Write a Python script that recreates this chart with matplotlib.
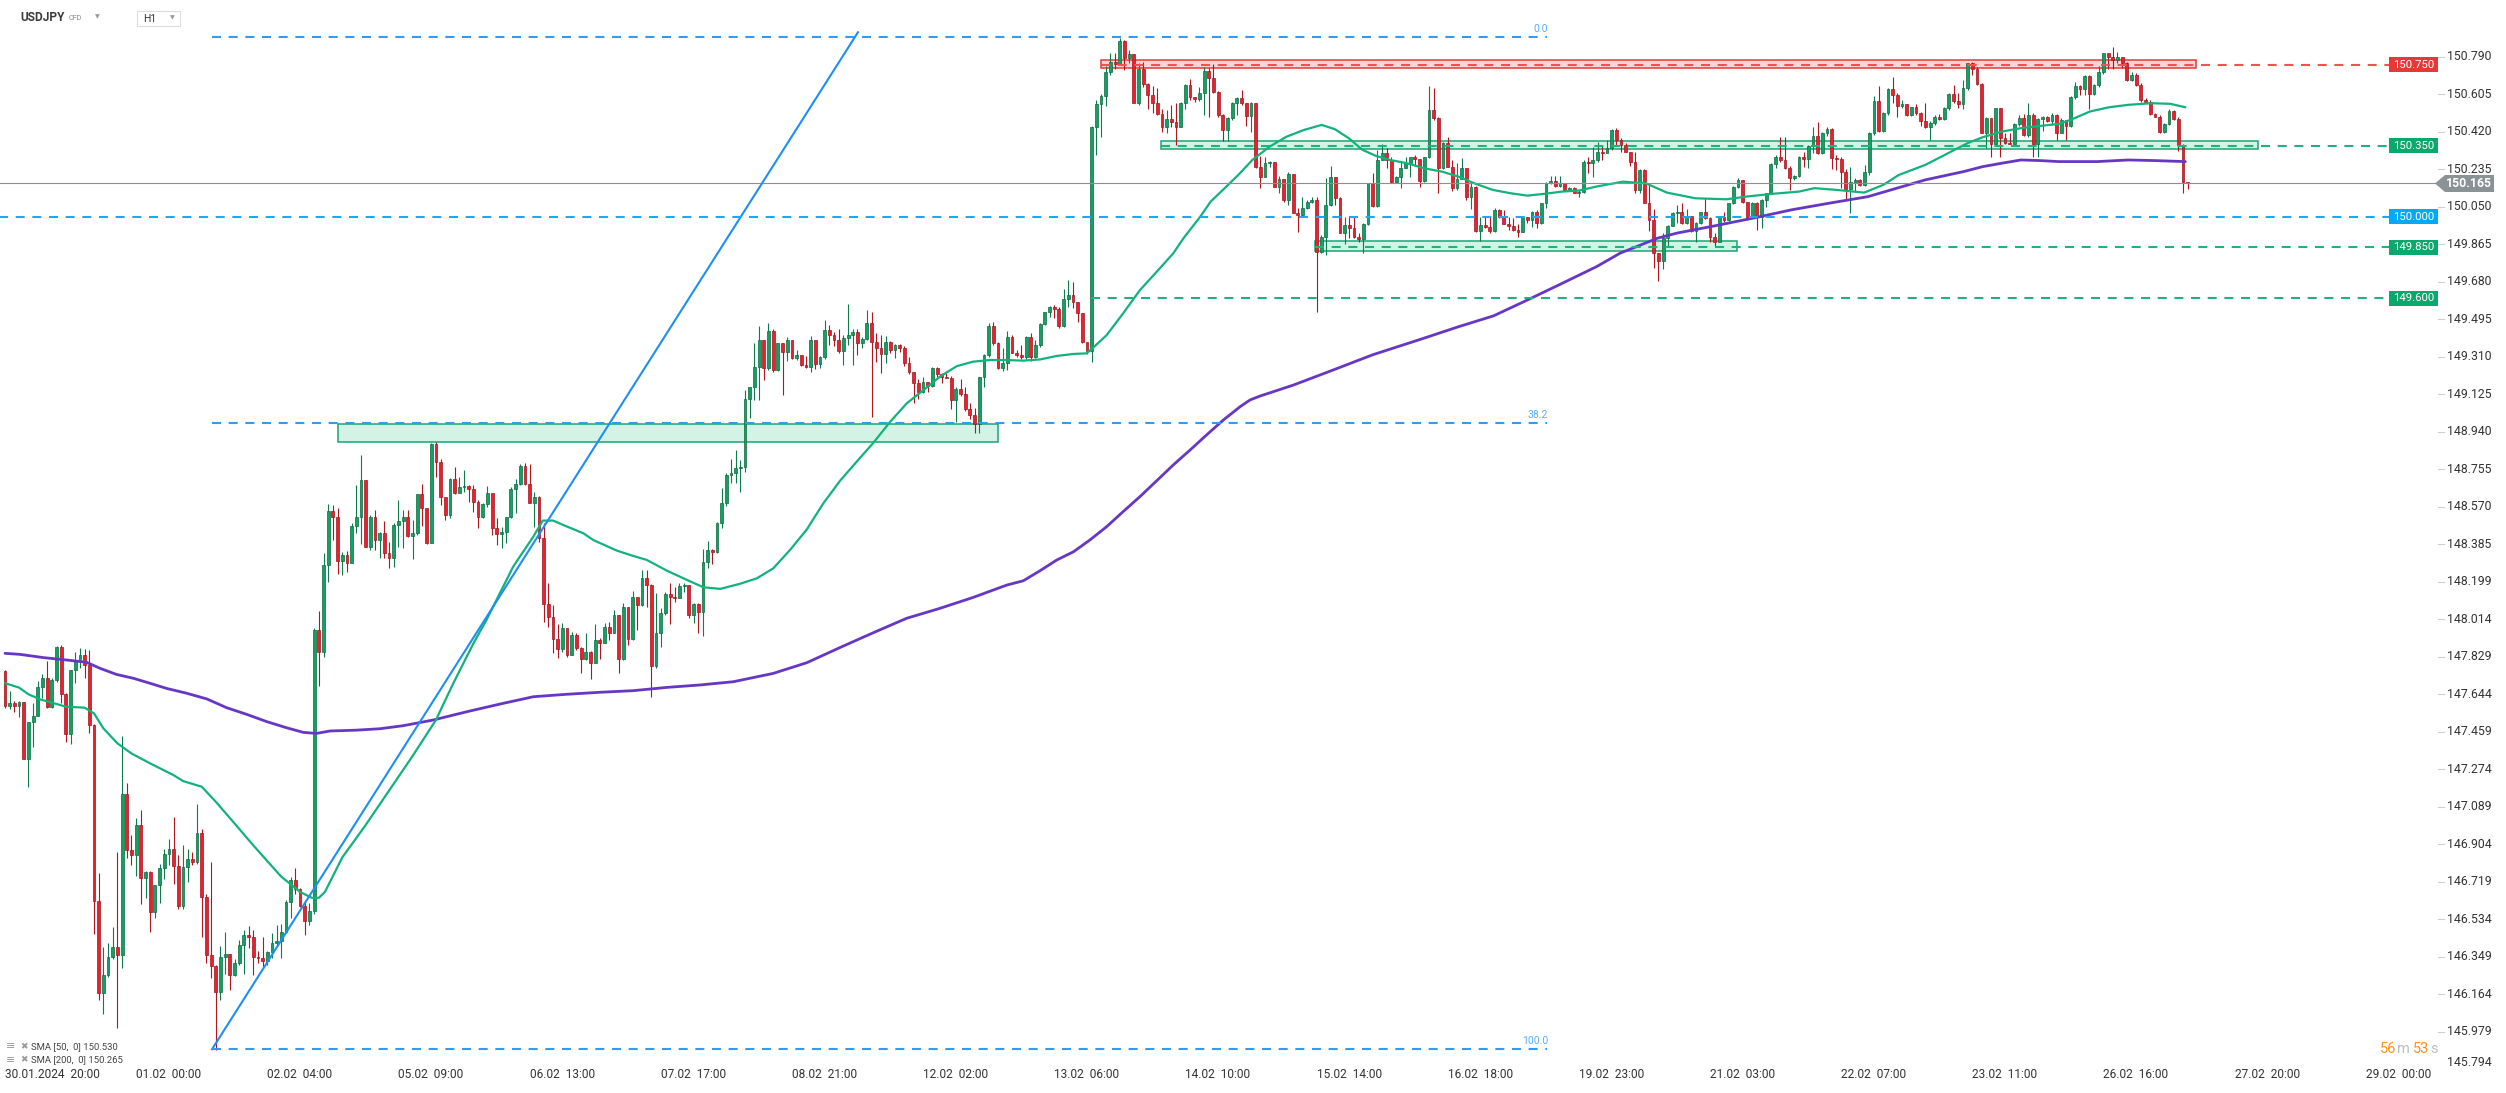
import numpy as np
import matplotlib
matplotlib.use("Agg")
import matplotlib.pyplot as plt
from matplotlib.patches import Rectangle, Polygon

plt.rcParams['font.family'] = ['Roboto', 'DejaVu Sans']
plt.rcParams['lines.scale_dashes'] = False

# ---------------- data (USDJPY H1) ----------------
first_open = 147.760

closes = [
    147.589, 147.600, 147.588, 147.605, 147.325, 147.506, 147.540, 147.683, 147.727, 147.584,
    147.715, 147.880, 147.645, 147.447, 147.765, 147.814, 147.839, 147.790, 147.493, 146.625,
    146.169, 146.259, 146.350, 146.400, 146.361, 147.153, 146.876, 146.852, 146.999, 146.740,
    146.770, 146.569, 146.703, 146.789, 146.857, 146.884, 146.797, 146.602, 146.794, 146.832,
    146.820, 146.962, 146.646, 146.361, 146.304, 146.177, 146.348, 146.363, 146.260, 146.320,
    146.410, 146.457, 146.447, 146.350, 146.345, 146.330, 146.375, 146.416, 146.430, 146.474,
    146.620, 146.730, 146.684, 146.600, 146.526, 146.575, 147.960, 147.855, 148.283, 148.549,
    148.520, 148.304, 148.332, 148.294, 148.475, 148.518, 148.702, 148.373, 148.521, 148.406,
    148.442, 148.340, 148.319, 148.480, 148.502, 148.518, 148.426, 148.439, 148.632, 148.566,
    148.393, 148.880, 148.793, 148.620, 148.530, 148.707, 148.640, 148.670, 148.675, 148.656,
    148.592, 148.520, 148.584, 148.636, 148.467, 148.436, 148.445, 148.521, 148.656, 148.680,
    148.773, 148.680, 148.590, 148.617, 148.415, 148.090, 148.025, 147.916, 147.867, 147.970,
    147.839, 147.937, 147.872, 147.817, 147.855, 147.801, 147.913, 147.897, 147.979, 147.949,
    148.036, 147.818, 148.074, 147.916, 148.127, 148.085, 148.217, 148.184, 147.785, 147.946,
    148.045, 148.140, 148.127, 148.120, 148.179, 148.185, 148.036, 148.091, 148.053, 148.296,
    148.357, 148.345, 148.488, 148.587, 148.725, 148.735, 148.760, 148.765, 149.100, 149.163,
    149.258, 149.393, 149.253, 149.437, 149.245, 149.377, 149.336, 149.393, 149.303, 149.320,
    149.270, 149.258, 149.393, 149.275, 149.307, 149.443, 149.418, 149.393, 149.340, 149.402,
    149.418, 149.430, 149.376, 149.400, 149.478, 149.381, 149.352, 149.324, 149.385, 149.344,
    149.368, 149.352, 149.278, 149.237, 149.179, 149.138, 149.184, 149.168, 149.253, 149.225,
    149.212, 149.204, 149.097, 149.153, 149.127, 149.051, 149.023, 148.978, 149.209, 149.320,
    149.462, 149.376, 149.253, 149.278, 149.410, 149.330, 149.319, 149.310, 149.410, 149.308,
    149.368, 149.470, 149.533, 149.554, 149.546, 149.464, 149.594, 149.615, 149.582, 149.525,
    149.381, 149.340, 150.442, 150.556, 150.597, 150.717, 150.763, 150.755, 150.870, 150.783,
    150.803, 150.564, 150.729, 150.655, 150.600, 150.560, 150.508, 150.442, 150.482, 150.470,
    150.446, 150.561, 150.650, 150.590, 150.581, 150.613, 150.722, 150.684, 150.618, 150.503,
    150.429, 150.487, 150.564, 150.586, 150.561, 150.498, 150.564, 150.245, 150.199, 150.265,
    150.273, 150.150, 150.186, 150.084, 150.212, 150.021, 150.010, 150.043, 150.076, 150.084,
    149.829, 149.903, 150.059, 150.199, 150.092, 149.923, 149.961, 149.944, 149.900, 149.890,
    149.966, 150.166, 150.054, 150.281, 150.314, 150.281, 150.174, 150.199, 150.240, 150.265,
    150.298, 150.285, 150.179, 150.294, 150.528, 150.487, 150.240, 150.367, 150.248, 150.142,
    150.186, 150.240, 150.100, 150.150, 149.933, 149.961, 149.949, 149.933, 150.035, 150.002,
    149.966, 149.955, 149.936, 149.925, 149.998, 149.985, 150.026, 149.969, 150.068, 150.166,
    150.178, 150.153, 150.166, 150.133, 150.145, 150.120, 150.125, 150.273, 150.265, 150.281,
    150.322, 150.314, 150.339, 150.429, 150.380, 150.355, 150.319, 150.273, 150.133, 150.232,
    150.071, 149.985, 149.821, 149.785, 149.895, 149.956, 150.018, 150.022, 149.969, 150.005,
    149.933, 149.972, 150.022, 149.994, 149.903, 149.878, 149.998, 149.985, 150.068, 150.150,
    150.183, 150.076, 149.999, 150.071, 149.999, 150.084, 150.117, 150.262, 150.298, 150.281,
    150.240, 150.191, 150.202, 150.294, 150.285, 150.350, 150.400, 150.314, 150.416, 150.433,
    150.290, 150.285, 150.224, 150.137, 150.174, 150.183, 150.158, 150.224, 150.416, 150.572,
    150.426, 150.515, 150.630, 150.602, 150.548, 150.558, 150.503, 150.541, 150.511, 150.475,
    150.442, 150.462, 150.495, 150.482, 150.536, 150.607, 150.574, 150.558, 150.635, 150.758,
    150.729, 150.656, 150.416, 150.487, 150.360, 150.536, 150.390, 150.367, 150.360, 150.459,
    150.487, 150.405, 150.503, 150.360, 150.482, 150.495, 150.475, 150.503, 150.413, 150.479,
    150.449, 150.591, 150.646, 150.630, 150.696, 150.607, 150.651, 150.717, 150.808, 150.790,
    150.775, 150.788, 150.761, 150.676, 150.701, 150.651, 150.577, 150.569, 150.508, 150.495,
    150.421, 150.459, 150.525, 150.482, 150.355, 150.174, 150.165,
]

highs = [
    147.765, 147.660, 147.610, 147.610, 147.608, 147.506, 147.600, 147.710, 147.743, 147.809,
    147.724, 147.883, 147.888, 147.653, 147.765, 147.855, 147.875, 147.868, 147.863, 147.497,
    146.761, 146.399, 146.416, 146.498, 146.868, 147.439, 147.209, 146.950, 147.036, 147.074,
    146.773, 146.773, 146.703, 146.810, 146.880, 146.931, 147.041, 146.852, 146.901, 146.881,
    146.865, 147.105, 146.978, 146.662, 146.819, 146.309, 146.403, 146.473, 146.363, 146.341,
    146.432, 146.481, 146.503, 146.481, 146.378, 146.448, 146.378, 146.465, 146.509, 146.514,
    146.630, 146.745, 146.789, 146.687, 146.621, 146.613, 147.970, 148.056, 148.340, 148.584,
    148.579, 148.566, 148.349, 148.354, 148.489, 148.678, 148.826, 148.702, 148.529, 148.554,
    148.447, 148.502, 148.398, 148.489, 148.604, 148.554, 148.554, 148.505, 148.632, 148.681,
    148.563, 148.883, 148.891, 148.806, 148.620, 148.710, 148.768, 148.715, 148.752, 148.678,
    148.678, 148.604, 148.587, 148.673, 148.640, 148.513, 148.472, 148.521, 148.666, 148.706,
    148.780, 148.788, 148.781, 148.645, 148.623, 148.492, 148.192, 148.086, 147.992, 147.995,
    147.966, 147.951, 147.946, 147.880, 147.946, 147.860, 147.992, 147.921, 147.995, 148.003,
    148.061, 148.028, 148.094, 148.077, 148.156, 148.127, 148.258, 148.258, 148.189, 148.146,
    148.069, 148.151, 148.192, 148.176, 148.196, 148.196, 148.184, 148.094, 148.094, 148.360,
    148.401, 148.360, 148.497, 148.661, 148.738, 148.804, 148.850, 148.801, 149.146, 149.163,
    149.380, 149.462, 149.393, 149.478, 149.446, 149.380, 149.380, 149.406, 149.388, 149.344,
    149.300, 149.314, 149.413, 149.393, 149.314, 149.492, 149.467, 149.434, 149.446, 149.418,
    149.571, 149.446, 149.446, 149.410, 149.541, 149.529, 149.426, 149.418, 149.413, 149.390,
    149.373, 149.372, 149.363, 149.311, 149.232, 149.199, 149.209, 149.187, 149.258, 149.258,
    149.232, 149.228, 149.217, 149.159, 149.200, 149.163, 149.081, 149.056, 149.209, 149.324,
    149.478, 149.480, 149.385, 149.352, 149.439, 149.418, 149.344, 149.368, 149.413, 149.426,
    149.393, 149.475, 149.533, 149.561, 149.566, 149.554, 149.643, 149.689, 149.681, 149.582,
    149.528, 149.373, 150.450, 150.577, 150.607, 150.745, 150.808, 150.811, 150.882, 150.873,
    150.824, 150.775, 150.758, 150.766, 150.660, 150.646, 150.635, 150.531, 150.528, 150.553,
    150.561, 150.569, 150.655, 150.679, 150.594, 150.643, 150.742, 150.734, 150.755, 150.623,
    150.508, 150.492, 150.569, 150.590, 150.627, 150.548, 150.569, 150.561, 150.301, 150.298,
    150.278, 150.273, 150.202, 150.186, 150.224, 150.212, 150.043, 150.100, 150.084, 150.100,
    150.100, 149.911, 150.191, 150.252, 150.199, 150.097, 150.002, 149.998, 149.998, 149.920,
    149.972, 150.166, 150.219, 150.331, 150.360, 150.339, 150.298, 150.202, 150.278, 150.294,
    150.298, 150.306, 150.265, 150.298, 150.646, 150.635, 150.495, 150.372, 150.393, 150.281,
    150.265, 150.290, 150.212, 150.166, 150.153, 150.002, 150.002, 150.002, 150.043, 150.038,
    150.035, 149.998, 149.994, 149.966, 150.002, 150.002, 150.031, 150.035, 150.071, 150.170,
    150.200, 150.200, 150.200, 150.166, 150.150, 150.150, 150.133, 150.281, 150.298, 150.347,
    150.372, 150.355, 150.380, 150.433, 150.438, 150.388, 150.367, 150.322, 150.322, 150.235,
    150.235, 150.166, 150.038, 149.821, 149.920, 149.961, 150.026, 150.059, 150.071, 150.038,
    150.002, 149.977, 150.026, 150.092, 150.002, 149.920, 150.005, 150.022, 150.071, 150.153,
    150.191, 150.183, 150.076, 150.076, 150.076, 150.087, 150.120, 150.265, 150.306, 150.393,
    150.393, 150.252, 150.207, 150.301, 150.322, 150.355, 150.442, 150.466, 150.421, 150.442,
    150.438, 150.306, 150.294, 150.235, 150.248, 150.191, 150.186, 150.257, 150.421, 150.597,
    150.646, 150.520, 150.635, 150.689, 150.610, 150.577, 150.553, 150.544, 150.558, 150.520,
    150.561, 150.474, 150.503, 150.508, 150.541, 150.610, 150.651, 150.613, 150.676, 150.761,
    150.766, 150.742, 150.663, 150.492, 150.487, 150.536, 150.536, 150.413, 150.416, 150.462,
    150.503, 150.508, 150.561, 150.512, 150.487, 150.498, 150.498, 150.515, 150.508, 150.487,
    150.470, 150.597, 150.668, 150.651, 150.701, 150.701, 150.656, 150.745, 150.811, 150.808,
    150.837, 150.816, 150.788, 150.766, 150.717, 150.709, 150.660, 150.586, 150.577, 150.515,
    150.503, 150.462, 150.531, 150.528, 150.495, 150.360, 150.174,
]

lows = [
    147.575, 147.570, 147.560, 147.535, 147.325, 147.186, 147.383, 147.540, 147.625, 147.576,
    147.579, 147.707, 147.600, 147.408, 147.398, 147.700, 147.773, 147.724, 147.452, 146.460,
    146.136, 146.067, 146.251, 146.341, 146.001, 146.297, 146.838, 146.802, 146.750, 146.608,
    146.638, 146.470, 146.539, 146.613, 146.736, 146.802, 146.707, 146.585, 146.585, 146.720,
    146.802, 146.810, 146.448, 146.317, 146.243, 145.890, 146.136, 146.264, 146.185, 146.255,
    146.309, 146.264, 146.391, 146.259, 146.317, 146.300, 146.309, 146.345, 146.404, 146.345,
    146.465, 146.539, 146.662, 146.597, 146.457, 146.509, 146.560, 147.688, 147.827, 148.198,
    148.406, 148.239, 148.234, 148.250, 148.357, 148.439, 148.387, 148.370, 148.357, 148.357,
    148.316, 148.316, 148.267, 148.275, 148.373, 148.368, 148.419, 148.311, 148.431, 148.477,
    148.387, 148.390, 148.719, 148.579, 148.505, 148.513, 148.633, 148.640, 148.645, 148.595,
    148.546, 148.467, 148.513, 148.571, 148.431, 148.382, 148.365, 148.393, 148.513, 148.541,
    148.678, 148.678, 148.590, 148.472, 148.398, 148.003, 147.979, 147.850, 147.823, 147.855,
    147.831, 147.839, 147.864, 147.749, 147.814, 147.719, 147.798, 147.818, 147.897, 147.913,
    147.946, 147.752, 147.814, 147.888, 147.913, 147.962, 148.081, 148.077, 147.633, 147.773,
    147.880, 148.036, 147.992, 148.102, 148.127, 148.151, 148.020, 147.995, 147.949, 147.934,
    148.267, 148.288, 148.340, 148.464, 148.574, 148.686, 148.686, 148.645, 148.740, 149.007,
    149.097, 149.097, 149.196, 149.245, 149.237, 149.242, 149.122, 149.291, 149.298, 149.294,
    149.265, 149.253, 149.237, 149.248, 149.253, 149.298, 149.368, 149.363, 149.330, 149.270,
    149.368, 149.270, 149.319, 149.352, 149.393, 149.011, 149.286, 149.229, 149.278, 149.327,
    149.303, 149.335, 149.265, 149.225, 149.081, 149.100, 149.130, 149.138, 149.163, 149.212,
    149.179, 149.204, 149.051, 148.990, 149.117, 149.044, 149.002, 148.933, 148.933, 149.163,
    149.308, 149.368, 149.248, 149.242, 149.245, 149.327, 149.311, 149.300, 149.294, 149.291,
    149.303, 149.360, 149.467, 149.505, 149.500, 149.451, 149.459, 149.557, 149.549, 149.483,
    149.376, 149.324, 149.286, 150.306, 150.396, 150.548, 150.701, 150.729, 150.766, 150.725,
    150.758, 150.561, 150.553, 150.643, 150.531, 150.512, 150.503, 150.421, 150.416, 150.442,
    150.355, 150.446, 150.531, 150.577, 150.569, 150.574, 150.503, 150.492, 150.613, 150.495,
    150.377, 150.377, 150.479, 150.503, 150.553, 150.449, 150.421, 150.240, 150.142, 150.196,
    150.245, 150.150, 150.117, 150.076, 150.059, 150.018, 149.928, 150.002, 150.038, 150.071,
    149.533, 149.821, 149.813, 150.054, 150.059, 149.920, 149.867, 149.895, 149.895, 149.878,
    149.824, 149.961, 150.051, 150.051, 150.281, 150.240, 150.166, 150.170, 150.142, 150.240,
    150.199, 150.257, 150.146, 150.174, 150.290, 150.479, 150.117, 150.235, 150.245, 150.130,
    150.133, 150.216, 150.084, 150.038, 149.928, 149.883, 149.944, 149.923, 149.928, 149.994,
    149.966, 149.936, 149.933, 149.900, 149.936, 149.972, 149.952, 149.944, 149.966, 150.043,
    150.163, 150.150, 150.150, 150.130, 150.130, 150.117, 150.100, 150.120, 150.216, 150.199,
    150.273, 150.281, 150.314, 150.331, 150.350, 150.322, 150.319, 150.253, 150.117, 150.117,
    150.068, 149.933, 149.747, 149.686, 149.742, 149.854, 149.969, 149.972, 149.966, 149.966,
    149.926, 149.878, 149.966, 149.989, 149.878, 149.854, 149.874, 149.977, 149.982, 150.064,
    150.142, 150.071, 149.985, 149.994, 149.936, 149.944, 150.051, 150.114, 150.240, 150.273,
    150.235, 150.133, 150.183, 150.199, 150.248, 150.240, 150.314, 150.311, 150.311, 150.400,
    150.235, 150.232, 150.142, 150.084, 150.018, 150.125, 150.153, 150.153, 150.207, 150.405,
    150.421, 150.421, 150.503, 150.561, 150.495, 150.536, 150.498, 150.498, 150.503, 150.449,
    150.438, 150.380, 150.454, 150.479, 150.479, 150.528, 150.561, 150.536, 150.531, 150.627,
    150.701, 150.651, 150.413, 150.339, 150.298, 150.350, 150.298, 150.360, 150.360, 150.364,
    150.449, 150.400, 150.396, 150.298, 150.298, 150.426, 150.470, 150.454, 150.380, 150.413,
    150.380, 150.446, 150.581, 150.602, 150.602, 150.531, 150.602, 150.643, 150.706, 150.729,
    150.729, 150.761, 150.734, 150.673, 150.673, 150.646, 150.569, 150.561, 150.503, 150.492,
    150.416, 150.416, 150.454, 150.479, 150.327, 150.120, 150.140,
]

# moving averages, read as (candle index, price) points
sma50_t = [0, 3, 5, 7.5, 13, 17, 19, 21, 24, 27, 31, 36, 38, 42, 45, 49, 53, 56, 59, 63,
           65.5, 67, 68.3, 69.4, 72, 77, 82, 87, 92, 95.7, 100, 102.8, 108.5, 112.8, 114.8,
           117, 119.2, 123.5, 125.6, 130.6, 134.2, 137, 141.3, 145.6, 149.1, 152.7, 156.9,
           160.5, 164, 167.6, 171.2, 174.7, 178.3, 181.8, 185.4, 189, 192.5, 196.1, 199.6,
           203.2, 206.7, 210.3, 213.9, 217.4, 221, 224.5, 228.1, 230.9, 232.4, 235.2, 238.7,
           242.3, 245.9, 249.4, 251.6, 255.2, 257.4, 260.4, 263.3, 266.3, 270, 273.6, 277.3,
           281.1, 283.9, 286.9, 289.8, 292.7, 295.7, 299.3, 303, 306.7, 310.3, 314, 317.7,
           321.4, 325, 328.7, 332.4, 336, 339.8, 343.5, 345.4, 350.3, 354.8, 360.9, 367.5,
           371.6, 377.3, 383, 386.3, 391.2, 396.9, 401, 404.3, 410, 414.1, 419, 422.2, 426.3,
           430.4, 434.5, 438.5, 441, 445.1, 449.2, 453.3, 458.2, 462.3, 465.5]
sma50_p = [147.700, 147.678, 147.645, 147.620, 147.584, 147.579, 147.551, 147.477, 147.403,
           147.353, 147.304, 147.246, 147.217, 147.189, 147.115, 147.008, 146.900, 146.822,
           146.745, 146.670, 146.641, 146.641, 146.670, 146.720, 146.840, 147.000, 147.170,
           147.340, 147.518, 147.699, 147.896, 148.012, 148.275, 148.423, 148.502, 148.502,
           148.480, 148.439, 148.406, 148.354, 148.327, 148.308, 148.255, 148.209, 148.173,
           148.165, 148.190, 148.217, 148.266, 148.357, 148.459, 148.587, 148.699, 148.792,
           148.886, 148.990, 149.080, 149.146, 149.212, 149.264, 149.286, 149.294, 149.294,
           149.291, 149.297, 149.314, 149.324, 149.327, 149.357, 149.417, 149.524, 149.639,
           149.730, 149.820, 149.895, 150.002, 150.076, 150.142, 150.207, 150.281, 150.347,
           150.396, 150.429, 150.454, 150.433, 150.388, 150.331, 150.301, 150.281, 150.265,
           150.240, 150.224, 150.199, 150.163, 150.133, 150.117, 150.105, 150.114, 150.125,
           150.130, 150.150, 150.166, 150.174, 150.166, 150.120, 150.092, 150.087, 150.100,
           150.114, 150.125, 150.142, 150.133, 150.120, 150.158, 150.207, 150.257, 150.306,
           150.364, 150.393, 150.421, 150.438, 150.449, 150.459, 150.479, 150.520, 150.541,
           150.553, 150.561, 150.558, 150.541]

sma200_t = [0, 3.2, 8.2, 13.2, 17.4, 20.3, 23.8, 27.4, 31, 34.5, 38.8, 43.1, 47.3, 51.6,
            55.9, 60.1, 63.7, 66.5, 69.4, 75, 80, 85, 91.4, 98.6, 105.7, 112.8, 119.9, 127.1,
            134.2, 141.3, 148.4, 155.5, 164, 171.2, 178.3, 185.4, 192.5, 199.6, 206.7, 213.9,
            217.4, 221, 224.5, 228.1, 231.6, 235.2, 238.7, 242.3, 245.9, 249.4, 253, 256.5,
            260.1, 263.7, 265.8, 267.9, 275, 283, 292, 302.3, 310.4, 317.8, 325.1, 332.5,
            339.8, 344.8, 348.7, 352.8, 356.9, 365, 373.2, 381.4, 389.5, 397.7, 402.6, 410,
            418.2, 422.2, 426.3, 430.4, 434.5, 438.5, 446.7, 453.3, 459, 465.5]
sma200_p = [147.847, 147.842, 147.826, 147.814, 147.803, 147.773, 147.743, 147.724, 147.699,
            147.674, 147.650, 147.622, 147.579, 147.546, 147.510, 147.480, 147.457, 147.452,
            147.464, 147.468, 147.475, 147.490, 147.518, 147.559, 147.597, 147.633, 147.645,
            147.655, 147.663, 147.679, 147.691, 147.707, 147.748, 147.801, 147.876, 147.949,
            148.020, 148.069, 148.123, 148.184, 148.205, 148.255, 148.307, 148.348, 148.406,
            148.472, 148.546, 148.620, 148.699, 148.776, 148.850, 148.924, 148.998, 149.064,
            149.097, 149.116, 149.170, 149.240, 149.320, 149.397, 149.459, 149.512, 149.591,
            149.673, 149.755, 149.821, 149.857, 149.895, 149.920, 149.956, 149.994, 150.035,
            150.068, 150.100, 150.133, 150.183, 150.224, 150.248, 150.265, 150.281, 150.278,
            150.273, 150.273, 150.281, 150.278, 150.273]

# drawings
trend_t = [44.2, 182.1]
trend_p = [145.894, 150.911]
fib_names = ["0.0", "38.2", "100.0"]
fib_prices = [150.889, 148.981, 145.894]
fib_t = [44.2, 329.2]

level_prices = [150.750, 150.350, 150.000, 149.850, 149.600]
level_labels = ["150.750", "150.350", "150.000", "149.850", "149.600"]
level_colors = ["#e53935", "#0aa86c", "#03a9f4", "#0aa86c", "#0aa86c"]
level_line_colors = ["#ef5350", "#1db37c", "#1ea7f2", "#1db37c", "#1db37c"]
level_start_t = [234.0, 246.8, -2.0, 279.7, 231.8]

zone_t0 = [71.0, 234.0, 246.8, 279.7]
zone_t1 = [212.1, 467.8, 481.0, 369.8]
zone_lo = [148.891, 150.734, 150.334, 149.833]
zone_hi = [148.979, 150.773, 150.375, 149.882]
zone_kind = ["g", "r", "g", "g"]

last_price = 150.165
ytick_labels = ["150.790", "150.605", "150.420", "150.235", "150.050", "149.865", "149.680",
                "149.495", "149.310", "149.125", "148.940", "148.755", "148.570", "148.385",
                "148.199", "148.014", "147.829", "147.644", "147.459", "147.274", "147.089",
                "146.904", "146.719", "146.534", "146.349", "146.164", "145.979"]
date_labels = ["30.01.2024  20:00", "01.02  00:00", "02.02  04:00", "05.02  09:00",
               "06.02  13:00", "07.02  17:00", "08.02  21:00", "12.02  02:00", "13.02  06:00",
               "14.02  10:00", "15.02  14:00", "16.02  18:00", "19.02  23:00", "21.02  03:00",
               "22.02  07:00", "23.02  11:00", "26.02  16:00", "27.02  20:00", "29.02  00:00"]
date_step = 28

# ---------------- layout ----------------
W, H = 2506, 1093
X0, DX = 5.0, 4.684      # pixel of candle 0, pixels per candle
Y0, DY = 56.8, 202.7     # pixel of 150.790, pixels per 1.000
P0 = 150.790


def xi(px):
    return (px - X0) / DX


def yp(py):
    return P0 - (py - Y0) / DY


def py_of(p):
    return Y0 + (P0 - p) * DY


def txt(px, py, s, **kw):
    return fig.text(px / W, 1 - py / H, s, **kw)


fig = plt.figure(figsize=(W / 100, H / 100), dpi=100)
ax = fig.add_axes([0, 0, 1, 1])
ax.set_xlim(xi(0), xi(W))
ax.set_ylim(yp(H), yp(0))
ax.axis('off')

# zones
for t0, t1, lo, hi, k in zip(zone_t0, zone_t1, zone_lo, zone_hi, zone_kind):
    fc, ec = ("#d4f3e7", "#17a673") if k == "g" else ("#fcd6d6", "#e53935")
    ax.add_patch(Rectangle((t0, lo), t1 - t0, hi - lo, facecolor=fc, edgecolor=ec,
                           lw=1.1, zorder=1))

# candles
c = np.array(closes)
h = np.array(highs)
l = np.array(lows)
o = np.concatenate([[first_open], c[:-1]])
h = np.maximum(h, np.maximum(o, c))
l = np.minimum(l, np.minimum(o, c))
t = np.arange(len(c))
up = c >= o
bot = np.minimum(o, c)
hgt = np.maximum(np.abs(c - o), 0.005)

ax.vlines(t[up], l[up], h[up], color="#0c7d4a", lw=0.8, zorder=3)
ax.vlines(t[~up], l[~up], h[~up], color="#b3151f", lw=0.8, zorder=3)
ax.bar(t[up], hgt[up], bottom=bot[up], width=0.6, color="#14a062", edgecolor="#0b6b40",
       linewidth=0.5, zorder=3)
ax.bar(t[~up], hgt[~up], bottom=bot[~up], width=0.6, color="#e8212f", edgecolor="#a3141e",
       linewidth=0.5, zorder=3)

# moving averages
ax.plot(sma200_t, sma200_p, color="#6637c4", lw=2.0, zorder=4, solid_capstyle='round')
ax.plot(sma50_t, sma50_p, color="#12b37a", lw=1.6, zorder=4, solid_capstyle='round')

# trend line and fibonacci
ax.plot(trend_t, trend_p, color="#1e8ff0", lw=1.5, zorder=5)
dash = (0, (6.5, 5.5))
for name, p in zip(fib_names, fib_prices):
    ax.plot(fib_t, [p, p], color="#2f9cf4", lw=1.5, ls=dash, zorder=5)
    txt(1548, py_of(p) - 8, name, ha='right', va='center', fontsize=7.5, color="#5aaef5")

# current price line
ax.plot([xi(0), xi(2436)], [last_price, last_price], color="#8e8e8e", lw=0.8, zorder=4)

# horizontal levels with price tags
tag_x0, tag_x1 = 2389, 2438
for p, lab, col, lcol, t0 in zip(level_prices, level_labels, level_colors,
                                 level_line_colors, level_start_t):
    ax.plot([t0, xi(tag_x0)], [p, p], color=lcol, lw=1.5, ls=dash, zorder=5)
    ax.add_patch(Rectangle((xi(tag_x0), p - 7.5 / DY), (tag_x1 - tag_x0) / DX, 15 / DY,
                           facecolor=col, edgecolor='none', zorder=6))
    txt((tag_x0 + tag_x1) / 2, py_of(p), lab, ha='center', va='center', fontsize=8.2,
        color='white')

# last price tag
yc = py_of(last_price)
pts = [(2435, yc), (2445, yc - 8.5), (2494, yc - 8.5), (2494, yc + 8.5), (2445, yc + 8.5)]
ax.add_patch(Polygon([(xi(x), yp(y)) for x, y in pts], closed=True, facecolor="#8a9296",
                     edgecolor='none', zorder=6))
txt(2469, yc, "150.165", ha='center', va='center', fontsize=8.8, color='white',
    fontweight='bold')

# right price axis
for s in ytick_labels:
    p = float(s)
    ax.plot([xi(2438), xi(2444)], [p, p], color="#cfcfcf", lw=0.8, zorder=2)
    txt(2447, py_of(p), s, ha='left', va='center', fontsize=8.8, color="#333333")
txt(2447, 1062.7, "145.794", ha='left', va='center', fontsize=8.8, color="#333333")

# date axis
for k, s in enumerate(date_labels):
    px = X0 + k * date_step * DX
    txt(px, 1075, s, ha='left', va='center', fontsize=8.6, color="#333333")

# countdown
txt(2380, 1049, "56", ha='left', va='center', fontsize=10.5, color="#f7941d")
txt(2397, 1049, "m", ha='left', va='center', fontsize=10.5, color="#bdbdbd")
txt(2413, 1049, "53", ha='left', va='center', fontsize=10.5, color="#f7941d")
txt(2430, 1049, "s", ha='left', va='center', fontsize=10.5, color="#bdbdbd")

# indicator legend
txt(6, 1046.5, "\u2261", ha='left', va='center', fontsize=8, color="#9a9a9a")
txt(20, 1046.5, "\u2716", ha='left', va='center', fontsize=6.5, color="#9a9a9a")
txt(31, 1046.5, "SMA [50,  0] 150.530", ha='left', va='center', fontsize=6.8, color="#444444")
txt(6, 1060, "\u2261", ha='left', va='center', fontsize=8, color="#9a9a9a")
txt(20, 1060, "\u2716", ha='left', va='center', fontsize=6.5, color="#9a9a9a")
txt(31, 1060, "SMA [200,  0] 150.265", ha='left', va='center', fontsize=6.8, color="#444444")

# header
txt(20.5, 17.5, "USDJPY", ha='left', va='center', fontsize=8.6, color="#3a3a3a",
    fontweight='bold')
txt(69, 18.5, "CFD", ha='left', va='center', fontsize=5.2, color="#8a8a8a")
txt(97.5, 16.5, "\u25BC", ha='center', va='center', fontsize=4.5, color="#9a9a9a")
fig.patches.append(Rectangle((137 / W, 1 - 25.7 / H), 43 / W, 14.7 / H, transform=fig.transFigure,
                             facecolor='white', edgecolor="#dddddd", lw=0.8))
txt(143, 19, "H1", ha='left', va='center', fontsize=7.5, color="#333333")
txt(172.5, 17.5, "\u25BC", ha='center', va='center', fontsize=4.5, color="#9a9a9a")

fig.savefig("out.png", dpi=100)
